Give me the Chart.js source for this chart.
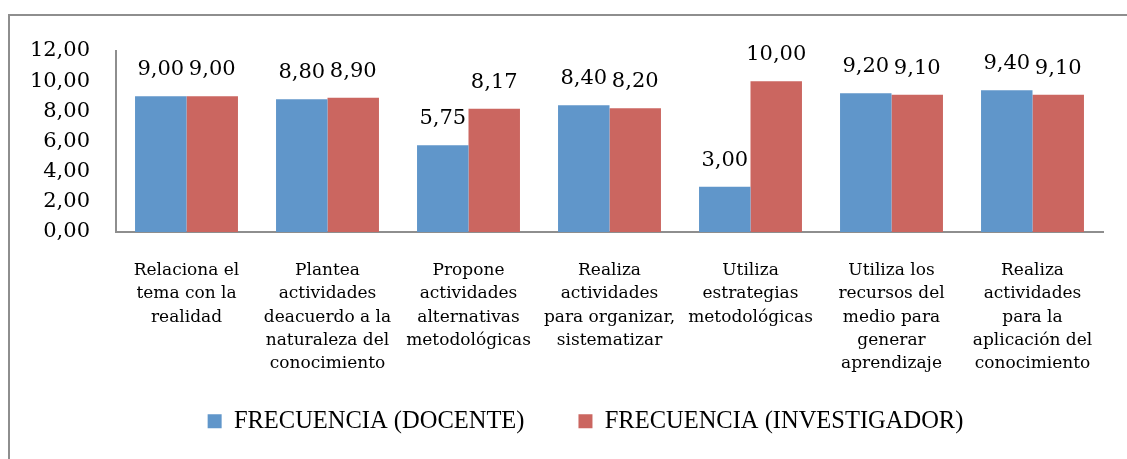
<!DOCTYPE html>
<html>
<head>
<meta charset="utf-8">
<script src="https://cdn.jsdelivr.net/npm/chart.js@4"></script>
<style>
  html, body { margin: 0; padding: 0; background: #fff; }
  #wrap { position: relative; width: 1127px; height: 459px; overflow: hidden; }
  #frame { position: absolute; left: 8px; top: 14px; width: 1200px; height: 500px;
           border-left: 2px solid #8e8e8e; border-top: 2px solid #8e8e8e; pointer-events: none; }
</style>
</head>
<body>
<div id="wrap">
  <canvas id="myChart" width="1127" height="459"></canvas>
  <div id="frame"></div>
</div>
<script>
const categories = [
    ['Relaciona el', 'tema con la', 'realidad'],
    ['Plantea', 'actividades', 'deacuerdo a la', 'naturaleza del', 'conocimiento'],
    ['Propone', 'actividades', 'alternativas', 'metodológicas'],
    ['Realiza', 'actividades', 'para organizar,', 'sistematizar'],
    ['Utiliza', 'estrategias', 'metodológicas'],
    ['Utiliza los', 'recursos del', 'medio para', 'generar', 'aprendizaje'],
    ['Realiza', 'actividades', 'para la', 'aplicación del', 'conocimiento'],
];
const docente = [9.00, 8.80, 5.75, 8.40, 3.00, 9.20, 9.40];
const investigador = [9.00, 8.90, 8.17, 8.20, 10.00, 9.10, 9.10];
const seriesNames = ['FRECUENCIA (DOCENTE)', 'FRECUENCIA (INVESTIGADOR)'];

const fmt = v => Number(v).toFixed(2).replace('.', ',');

// value labels above each bar
const barLabels = {
    id: 'barLabels',
    afterDatasetsDraw(chart) {
        const ctx = chart.ctx;
        ctx.save();
        ctx.font = '21px "DejaVu Serif"';
        ctx.fillStyle = '#000';
        ctx.textAlign = 'center';
        ctx.textBaseline = 'alphabetic';
        chart.data.datasets.forEach((ds, i) => {
            chart.getDatasetMeta(i).data.forEach((bar, j) => {
                ctx.fillText(fmt(ds.data[j]), bar.x, bar.y - 21);
            });
        });
        ctx.restore();
    }
};

// legend uses a wide padding for item spacing; pull its box back up / right
const legendPlace = {
    id: 'legendPlace',
    afterLayout(chart) {
        const lg = chart.legend;
        const h = lg.bottom - lg.top;
        lg.top = 355;
        lg.bottom = 355 + h;
        lg.left = 0;
        lg.right = 1171;
    }
};

const ctx = document.getElementById('myChart');
new Chart(ctx, {
    type: 'bar',
    data: {
        labels: categories,
        datasets: [
            {label: seriesNames[0], data: docente, backgroundColor: '#6096CA'},
            {label: seriesNames[1], data: investigador, backgroundColor: '#CB6660'},
        ]
    },
    options: {
        responsive: false,
        animation: false,
        categoryPercentage: 0.73,
        barPercentage: 1.0,
        layout: {padding: {left: 0, right: 24, top: 51, bottom: -2.5}},
        scales: {
            x: {
                grid: {display: false, drawTicks: false},
                border: {color: '#8e8e8e', width: 2},
                afterFit: s => { s.height = 141; },
                ticks: {
                    color: '#000',
                    padding: 27,
                    maxRotation: 0,
                    autoSkip: false,
                    font: {family: 'DejaVu Serif', size: 17, lineHeight: 1.37}
                }
            },
            y: {
                min: 0,
                max: 12,
                grid: {display: false, drawTicks: false},
                border: {color: '#8e8e8e', width: 2},
                afterFit: s => { s.width = 116; },
                ticks: {
                    stepSize: 2,
                    autoSkip: false,
                    color: '#000',
                    padding: 26,
                    callback: v => fmt(v),
                    font: {family: 'DejaVu Serif', size: 21}
                }
            }
        },
        plugins: {
            legend: {
                position: 'bottom',
                labels: {
                    color: '#000',
                    boxWidth: 14,
                    boxHeight: 14,
                    padding: 54,
                    font: {family: 'Liberation Serif', size: 24.5}
                }
            },
            tooltip: {enabled: false}
        }
    },
    plugins: [barLabels, legendPlace]
});
</script>
</body>
</html>
